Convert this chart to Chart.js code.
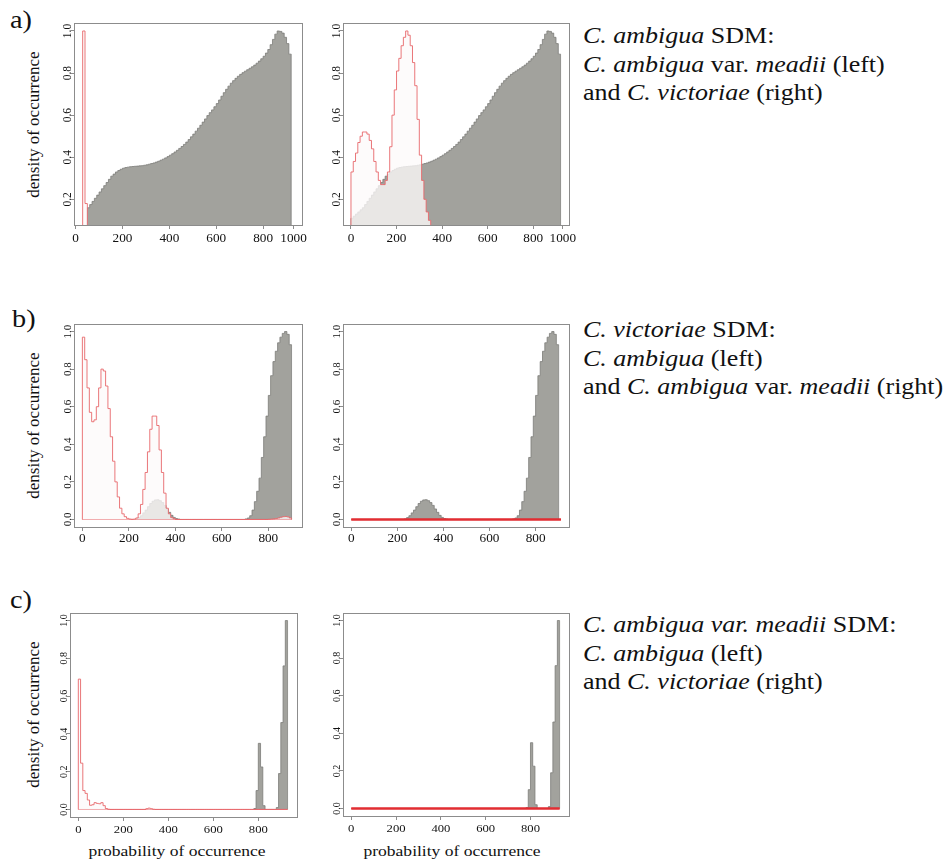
<!DOCTYPE html>
<html>
<head>
<meta charset="utf-8">
<script src="https://cdn.jsdelivr.net/npm/chart.js@4.4.1/dist/chart.umd.min.js"></script>
<style>
  body { margin: 0; background: #fff; }
  #page { position: relative; width: 950px; height: 861px;
          font-family: "Liberation Serif", "Times New Roman", Times, "DejaVu Serif", serif; color: #111; }
  canvas { position: absolute; }
  .lab { position: absolute; font-size: 25px; line-height: 25px; transform: scaleX(1.13); transform-origin: left top; }
  .cap { position: absolute; left: 583px; font-size: 23px; line-height: 28.7px; white-space: nowrap;
         transform: scaleX(1.13); transform-origin: left top; }
  .ytitle { position: absolute; left: 33px; width: 220px; margin-left: -110px; text-align: center;
            font-size: 17px; line-height: 17px; transform: rotate(-90deg); white-space: nowrap; }
  .xtitle { position: absolute; width: 240px; margin-left: -120px; text-align: center;
            font-size: 15.5px; line-height: 18px; white-space: nowrap; transform: scaleX(1.13); }
</style>
</head>
<body>
<div id="page">
  <div class="lab" style="left:10px;top:7px">a)</div>
  <div class="lab" style="left:12px;top:306px">b)</div>
  <div class="lab" style="left:10px;top:587px">c)</div>

  <div class="cap" style="top:22px">
    <i>C. ambigua</i> SDM:<br>
    <i>C. ambigua</i> var. <i>meadii</i> (left)<br>
    and <i>C. victoriae</i> (right)
  </div>
  <div class="cap" style="top:316px">
    <i>C. victoriae</i> SDM:<br>
    <i>C. ambigua</i> (left)<br>
    and <i>C. ambigua</i> var. <i>meadii</i> (right)
  </div>
  <div class="cap" style="top:611px">
    <i>C. ambigua var. meadii</i> SDM:<br>
    <i>C. ambigua</i> (left)<br>
    and <i>C. victoriae</i> (right)
  </div>

  <div class="ytitle" style="top:116px">density of occurrence</div>
  <div class="ytitle" style="top:417px">density of occurrence</div>
  <div class="ytitle" style="top:706px">density of occurrence</div>

  <div class="xtitle" style="left:177px;top:842px">probability of occurrence</div>
  <div class="xtitle" style="left:452px;top:842px">probability of occurrence</div>
</div>

<script>
// bin width of every histogram (probability units)
const BIN = 10;
const SERIF = '"Liberation Serif", "Times New Roman", Times, "DejaVu Serif", serif';

// ---- a) C. ambigua SDM : background histogram, bins from 0
const aGray = [
  0.11, 0.12, 0.13, 0.14, 0.15, 0.16, 0.175, 0.19, 0.205, 0.22,
  0.235, 0.25, 0.265, 0.28, 0.295, 0.31, 0.32, 0.33, 0.337, 0.343,
  0.348, 0.351, 0.353, 0.355, 0.356, 0.357, 0.358, 0.359, 0.36, 0.362,
  0.364, 0.367, 0.37, 0.373, 0.377, 0.381, 0.386, 0.391, 0.397, 0.403,
  0.41, 0.417, 0.425, 0.433, 0.442, 0.451, 0.461, 0.472, 0.484, 0.497,
  0.51, 0.524, 0.538, 0.552, 0.567, 0.582, 0.598, 0.612, 0.625, 0.64,
  0.655, 0.672, 0.69, 0.707, 0.723, 0.738, 0.752, 0.764, 0.775, 0.785,
  0.794, 0.802, 0.809, 0.816, 0.823, 0.83, 0.838, 0.847, 0.857, 0.868,
  0.88, 0.895, 0.912, 0.935, 0.96, 0.985, 1.0, 0.998, 0.99, 0.97,
  0.94, 0.89
];
const aLeftGrayFrom = 50;          // left panel background starts here
const aLeftRed = [1.0, 0.18, 0.06];
const aLeftRedFrom = 30;
const aRightRed = [
  0.33, 0.38, 0.42, 0.47, 0.50, 0.52, 0.52, 0.51, 0.48, 0.44,
  0.38, 0.33, 0.29, 0.27, 0.27, 0.29, 0.33, 0.45, 0.60, 0.72,
  0.81, 0.87, 0.93, 0.97, 1.0, 0.98, 0.93, 0.85, 0.74, 0.58,
  0.41, 0.29, 0.20, 0.14, 0.10, 0.06, 0.03
];
const aRightRedFrom = 0;

// ---- b) C. victoriae SDM
const bGray = [
  0.003, 0.01, 0.02, 0.035, 0.05, 0.068, 0.085, 0.097, 0.104, 0.105,
  0.10, 0.09, 0.075, 0.056, 0.038, 0.022, 0.011, 0.005, 0.002, 0,
  0, 0, 0, 0, 0, 0, 0, 0, 0, 0,
  0, 0, 0, 0, 0, 0, 0, 0, 0, 0,
  0, 0, 0, 0, 0, 0, 0, 0.003, 0.008, 0.02,
  0.05, 0.095, 0.15, 0.22, 0.33, 0.44, 0.55, 0.66, 0.765, 0.84,
  0.895, 0.94, 0.97, 0.99, 1.0, 0.985, 0.93
];
const bGrayFrom = 230;
const bLeftRed = [
  0.97, 0.85, 0.70, 0.57, 0.52, 0.53, 0.60, 0.70, 0.80, 0.79,
  0.71, 0.59, 0.44, 0.31, 0.20, 0.12, 0.06, 0.03, 0.015, 0.006,
  0.002, 0.001, 0.002, 0.008, 0.03, 0.08, 0.16, 0.25, 0.36, 0.48,
  0.55, 0.55, 0.50, 0.37, 0.25, 0.14, 0.06, 0.03, 0.01, 0.004,
  0, 0, 0, 0, 0, 0, 0, 0, 0, 0,
  0, 0, 0, 0, 0, 0, 0, 0, 0, 0,
  0, 0, 0, 0, 0, 0, 0, 0, 0, 0,
  0, 0, 0, 0, 0, 0, 0, 0, 0, 0,
  0.001, 0.002, 0.003, 0.005, 0.008, 0.012, 0.015, 0.016, 0.014, 0.008
];
const bRightRed = [
  0, 0, 0, 0, 0, 0, 0, 0, 0, 0,
  0, 0, 0, 0, 0, 0, 0, 0, 0, 0,
  0, 0, 0, 0, 0, 0, 0, 0, 0, 0,
  0, 0, 0, 0, 0, 0, 0, 0, 0, 0,
  0, 0, 0, 0, 0, 0, 0, 0, 0, 0,
  0, 0, 0, 0, 0, 0, 0, 0, 0, 0,
  0, 0, 0, 0, 0, 0, 0, 0, 0, 0,
  0, 0, 0, 0, 0, 0, 0, 0, 0, 0,
  0, 0, 0, 0, 0, 0, 0, 0, 0, 0,
  0
];

// ---- c) C. ambigua var. meadii SDM
const cGray = [0.005, 0.1, 0.35, 0.225, 0.02, 0, 0, 0, 0, 0, 0.01, 0.19, 0.46, 0.76, 1.0];
const cGrayFrom = 780;
const cLeftRed = [
  0.69, 0.245, 0.10, 0.085, 0.05, 0.022, 0.025, 0.036, 0.032, 0.03,
  0.036, 0.02, 0.005, 0.001, 0, 0, 0, 0, 0, 0,
  0, 0, 0, 0, 0, 0, 0, 0, 0, 0,
  0.004, 0.007, 0.004, 0.001, 0, 0, 0, 0, 0, 0,
  0, 0, 0, 0, 0, 0, 0, 0, 0, 0,
  0, 0, 0, 0, 0, 0, 0, 0, 0, 0,
  0, 0, 0, 0, 0, 0, 0, 0, 0, 0,
  0, 0, 0, 0, 0, 0, 0, 0, 0, 0,
  0, 0, 0, 0, 0, 0, 0, 0, 0, 0,
  0, 0, 0
];
const cRightRed = [
  0, 0, 0, 0, 0, 0, 0, 0, 0, 0,
  0, 0, 0, 0, 0, 0, 0, 0, 0, 0,
  0, 0, 0, 0, 0, 0, 0, 0, 0, 0,
  0, 0, 0, 0, 0, 0, 0, 0, 0, 0,
  0, 0, 0, 0, 0, 0, 0, 0, 0, 0,
  0, 0, 0, 0, 0, 0, 0, 0, 0, 0,
  0, 0, 0, 0, 0, 0, 0, 0, 0, 0,
  0, 0, 0, 0, 0, 0, 0, 0, 0, 0,
  0, 0, 0, 0, 0, 0, 0, 0, 0, 0,
  0, 0, 0
];

// ---- ticks
const aXTicks = [0, 200, 400, 600, 800, 930];
const aXLabels = ['0', '200', '400', '600', '800', '1000'];
const bcXTicks = [0, 200, 400, 600, 800];
const bcXLabels = ['0', '200', '400', '600', '800'];
const aYTicks = [0.2, 0.4, 0.6, 0.8, 1.0];
const aYLabels = ['0.2', '0.4', '0.6', '0.8', '1.0'];
const bcYTicks = [0, 0.2, 0.4, 0.6, 0.8, 1.0];
const bcYLabels = ['0.0', '0.2', '0.4', '0.6', '0.8', '1.0'];


// histogram outline as step points: value i covers [from+i*BIN, from+(i+1)*BIN)
function steps(from, values) {
  let pts = [{x: from, y: 0}];
  values.forEach((v, i) => pts.push({x: from + i * BIN, y: v}));
  pts.push({x: from + values.length * BIN, y: 0});
  return pts;
}
function baseLine(from, values) {
  return [{x: from, y: 0}, {x: from + values.length * BIN, y: 0}];
}

// frame round the plot + R-style tick labels (y read upwards, figure a bit wide)
function framePlugin(p) {
  return {
    id: 'frame',
    afterDraw(chart) {
      const ctx = chart.ctx, a = chart.chartArea, x = chart.scales.x, y = chart.scales.y;
      ctx.save();
      ctx.strokeStyle = '#8c8c8c';
      ctx.lineWidth = 1;
      ctx.strokeRect(Math.round(a.left) + 0.5, Math.round(a.top) + 0.5,
                     Math.round(a.right - a.left), Math.round(a.bottom - a.top));
      ctx.fillStyle = '#111';
      ctx.textAlign = 'center';
      ctx.textBaseline = 'alphabetic';
      ctx.font = p.yf + 'px ' + SERIF;
      y.ticks.forEach((t, i) => {
        ctx.save();
        ctx.translate(a.left - 3.5, y.getPixelForValue(t.value));
        ctx.rotate(-Math.PI / 2);
        ctx.fillText(p.yl[i], 0, 0);
        ctx.restore();
      });
      ctx.font = p.xf + 'px ' + SERIF;
      x.ticks.forEach((t, i) => {
        ctx.save();
        ctx.translate(x.getPixelForValue(t.value), a.bottom + p.xoff);
        ctx.scale(1.15, 1);
        ctx.fillText(p.xl[i], 0, 0);
        ctx.restore();
      });
      ctx.restore();
    }
  };
}

const GRAY = '#a2a29d';
const GRAY_EDGE = '#7c7c78';
const PINK = 'rgba(252,250,250,0.78)';
const RED = 'rgba(232,104,108,0.9)';
const RED_STRONG = 'rgb(226,45,50)';

function makePanel(p) {
  const cv = document.createElement('canvas');
  cv.width = p.box[2] + 50;
  cv.height = p.box[3] + 50;
  cv.style.left = (p.box[0] - 40) + 'px';
  cv.style.top = (p.box[1] - 10) + 'px';
  document.getElementById('page').appendChild(cv);

  const redColor = p.strong ? RED_STRONG : RED;
  const redWidth = p.strong ? 2 : 1;
  new Chart(cv, {
    type: 'line',
    data: {
      datasets: [
        { data: steps(p.redFrom, p.red), stepped: true, fill: 'origin',
          borderColor: redColor, borderWidth: redWidth, backgroundColor: PINK, pointRadius: 0, clip: 0 },
        { data: baseLine(p.redFrom, p.red), fill: false,
          borderColor: redColor, borderWidth: redWidth, pointRadius: 0, clip: 0 },
        { data: steps(p.grayFrom, p.gray), stepped: true, fill: 'origin',
          borderColor: GRAY_EDGE, borderWidth: 0.8, backgroundColor: GRAY, pointRadius: 0, clip: 0 }
      ]
    },
    options: {
      responsive: false,
      animation: false,
      devicePixelRatio: 1,
      layout: { padding: 10 },
      plugins: { legend: { display: false }, tooltip: { enabled: false } },
      scales: {
        x: {
          type: 'linear', min: p.xr[0], max: p.xr[1],
          afterBuildTicks: s => { s.ticks = p.xt.map(v => ({value: v})); },
          afterFit: s => { s.height = 30; },
          ticks: { display: false },
          grid: { drawOnChartArea: false, tickLength: 4, tickColor: '#8c8c8c' },
          border: { display: false }
        },
        y: {
          type: 'linear', min: p.yr[0], max: p.yr[1],
          afterBuildTicks: s => { s.ticks = p.yt.map(v => ({value: v})); },
          afterFit: s => { s.width = 30; },
          ticks: { display: false },
          grid: { drawOnChartArea: false, tickLength: 3, tickColor: '#8c8c8c' },
          border: { display: false }
        }
      }
    },
    plugins: [framePlugin(p)]
  });
}

const aYr = [0.078, 1.038], bcYr = [-0.04, 1.04];

makePanel({ box: [74, 23, 228, 202], xr: [-7, 966], yr: aYr, xt: aXTicks, xl: aXLabels, yt: aYTicks, yl: aYLabels,
  gray: aGray.slice(aLeftGrayFrom / BIN), grayFrom: aLeftGrayFrom, red: aLeftRed, redFrom: aLeftRedFrom,
  xf: 11.5, yf: 11.5, xoff: 16.5 });
makePanel({ box: [343, 23, 226, 202], xr: [-35, 957], yr: aYr, xt: aXTicks, xl: aXLabels, yt: aYTicks, yl: aYLabels,
  gray: aGray, grayFrom: 0, red: aRightRed, redFrom: aRightRedFrom, xf: 11.5, yf: 11.5, xoff: 16.5 });

makePanel({ box: [74, 324, 228, 203], xr: [-36, 945], yr: bcYr, xt: bcXTicks, xl: bcXLabels, yt: bcYTicks, yl: bcYLabels,
  gray: bGray, grayFrom: bGrayFrom, red: bLeftRed, redFrom: 0, xf: 11.5, yf: 11, xoff: 15 });
makePanel({ box: [343, 324, 226, 203], xr: [-36, 945], yr: bcYr, xt: bcXTicks, xl: bcXLabels, yt: bcYTicks, yl: bcYLabels,
  gray: bGray, grayFrom: bGrayFrom, red: bRightRed, redFrom: 0, strong: true, xf: 11.5, yf: 11, xoff: 15 });

makePanel({ box: [70, 613, 227, 204], xr: [-37, 972], yr: bcYr, xt: bcXTicks, xl: bcXLabels, yt: bcYTicks, yl: bcYLabels,
  gray: cGray, grayFrom: cGrayFrom, red: cLeftRed, redFrom: 0, xf: 11, yf: 10, xoff: 16 });
makePanel({ box: [343, 613, 226, 203], xr: [-37, 972], yr: bcYr, xt: bcXTicks, xl: bcXLabels, yt: bcYTicks, yl: bcYLabels,
  gray: cGray, grayFrom: cGrayFrom, red: cRightRed, redFrom: 0, strong: true, xf: 11, yf: 10, xoff: 16 });
</script>
</body>
</html>
